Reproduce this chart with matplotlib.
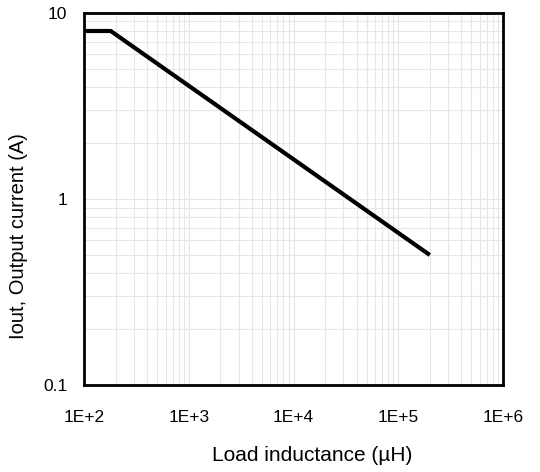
import matplotlib
matplotlib.use("Agg")
import matplotlib.pyplot as plt
from matplotlib.ticker import FixedLocator, FixedFormatter, LogLocator, NullFormatter

plt.rcParams['font.family'] = ['Liberation Sans', 'DejaVu Sans']

# data
inductance = [100, 180, 2e5]   # uH
current = [8, 8, 0.5]          # A

xticks = [1e2, 1e3, 1e4, 1e5, 1e6]
xtick_labels = ['1E+2', '1E+3', '1E+4', '1E+5', '1E+6']
yticks = [0.1, 1, 10]
ytick_labels = ['0.1', '1', '10']

fig = plt.figure(figsize=(5.4, 4.72), dpi=100)
ax = fig.add_axes([0.1556, 0.1843, 0.7759, 0.7882])

ax.plot(inductance, current, color='black', linewidth=3, solid_capstyle='butt', zorder=3)

ax.set_xscale('log')
ax.set_yscale('log')
ax.set_xlim(1e2, 1e6)
ax.set_ylim(0.1, 10)

ax.xaxis.set_major_locator(FixedLocator(xticks))
ax.xaxis.set_major_formatter(FixedFormatter(xtick_labels))
ax.yaxis.set_major_locator(FixedLocator(yticks))
ax.yaxis.set_major_formatter(FixedFormatter(ytick_labels))
ax.xaxis.set_minor_locator(LogLocator(base=10, subs=range(2, 10)))
ax.yaxis.set_minor_locator(LogLocator(base=10, subs=range(2, 10)))
ax.xaxis.set_minor_formatter(NullFormatter())
ax.yaxis.set_minor_formatter(NullFormatter())

ax.grid(which='both', color='#e6e6e6', linewidth=0.8)
ax.tick_params(which='both', length=0, labelsize=12.5, colors='black')
ax.tick_params(axis='x', pad=18)
ax.tick_params(axis='y', pad=12)

for s in ax.spines.values():
    s.set_linewidth(2)
    s.set_color('black')

# labels sit off-centre in the reference
ax.set_xlabel('Load inductance (µH)', fontsize=15)
ax.xaxis.set_label_coords(0.544, -0.165)
ax.set_ylabel('Iout, Output current (A)', fontsize=14.5)
ax.yaxis.set_label_coords(-0.133, 0.40)

fig.savefig('out.png', dpi=100)
